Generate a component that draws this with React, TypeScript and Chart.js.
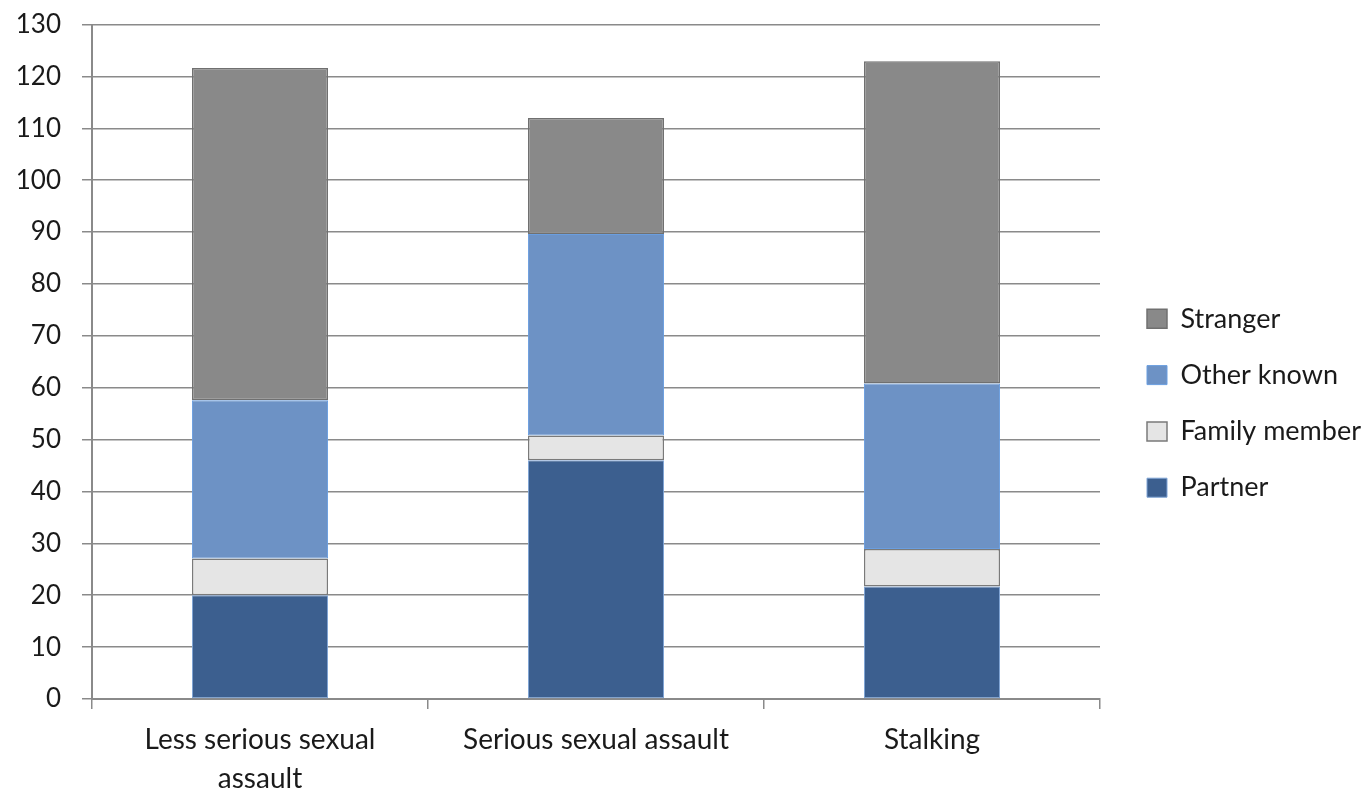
import React, { useEffect, useRef } from "react";
import { Chart, registerables } from "chart.js";

Chart.register(...registerables);

const categories: (string | string[])[] = [
  ["Less serious sexual", "assault"],
  "Serious sexual assault",
  "Stalking",
];
const partner = [20, 46, 21.7];
const familyMember = [7.1, 4.8, 7.2];
const otherKnown = [30.5, 38.8, 31.9];
const stranger = [64.0, 22.4, 62.1];
const yTicks = { min: 0, max: 130, step: 10 };

const FONT = "Lato, 'Open Sans', sans-serif";
const TEXT = "#1a1a1a";
const GRID = "#8a8a8a";

export default function App() {
  const ref = useRef<HTMLCanvasElement | null>(null);

  useEffect(() => {
    if (!ref.current) return;
    const legendShift = {
      id: "legendShift",
      afterInit(chart: any) {
        const lg = chart.legend;
        if (!lg) return;
        const orig = lg.fit.bind(lg);
        lg.fit = function () {
          orig();
          this.width = 270;
        };
      },
      afterLayout(chart: any) {
        const lg = chart.legend;
        if (!lg) return;
        const pad = lg.options.labels.padding;
        const target = 1147 - pad;
        const dx = target - lg.left;
        lg.left += dx;
        lg.right += dx;
        lg.top -= 3;
        lg.bottom -= 3;
      },
    };
    const chart = new Chart(ref.current, {
      type: "bar",
      data: {
        labels: categories,
        datasets: [
          {
            label: "Partner",
            data: partner,
            backgroundColor: "#3c5f8f",
            borderColor: "#7ea4d6",
            borderWidth: 1,
          },
          {
            label: "Family member",
            data: familyMember,
            backgroundColor: "#e5e5e5",
            borderColor: "#7a7a7a",
            borderWidth: 1.5,
          },
          {
            label: "Other known",
            data: otherKnown,
            backgroundColor: "#6d92c5",
            borderColor: "#6a9ee0",
            borderWidth: 1,
          },
          {
            label: "Stranger",
            data: stranger,
            backgroundColor: "#898989",
            borderColor: "#707070",
            borderWidth: 1.5,
          },
        ].map((d) => ({
          ...d,
          borderSkipped: false,
          barPercentage: 0.405,
          categoryPercentage: 1,
        })),
      },
      options: {
        animation: false,
        responsive: true,
        maintainAspectRatio: false,
        layout: { padding: { top: 24.5, left: 0, right: 0, bottom: 0 } },
        plugins: {
          tooltip: { enabled: false },
          legend: {
            position: "right",
            reverse: true,
            labels: {
              boxWidth: 20,
              boxHeight: 19,
              padding: 29.3,
              color: TEXT,
              font: { family: FONT, size: 27 },
            },
          },
        },
        scales: {
          x: {
            stacked: true,
            offset: true,
            afterFit(scale: any) {
              scale.height = 89;
              scale.paddingLeft = 0;
              scale.paddingRight = 0;
            },
            grid: {
              display: true,
              offset: true,
              drawOnChartArea: false,
              drawTicks: true,
              tickLength: 10,
              color: GRID,
              lineWidth: 1.5,
            },
            border: { display: true, color: GRID, width: 2 },
            ticks: {
              color: TEXT,
              padding: 11.75,
              maxRotation: 0,
              autoSkip: false,
              font: { family: FONT, size: 28, lineHeight: 1.375 },
            },
          },
          y: {
            stacked: true,
            min: yTicks.min,
            max: yTicks.max,
            afterFit(scale: any) {
              scale.width = 92;
              scale.paddingTop = 0;
              scale.paddingBottom = 0;
            },
            grid: {
              color: GRID,
              lineWidth: 1.5,
              drawTicks: true,
              tickLength: 10,
            },
            border: { display: true, color: GRID, width: 2 },
            ticks: {
              stepSize: yTicks.step,
              color: TEXT,
              padding: 21,
              font: { family: FONT, size: 26 },
            },
          },
        },
      },
      plugins: [legendShift],
    });
    return () => chart.destroy();
  }, []);

  return (
    <div
      style={{
        position: "fixed",
        left: 0,
        top: 0,
        width: 1370,
        height: 788,
        background: "#fff",
      }}
    >
      <canvas ref={ref} />
    </div>
  );
}
